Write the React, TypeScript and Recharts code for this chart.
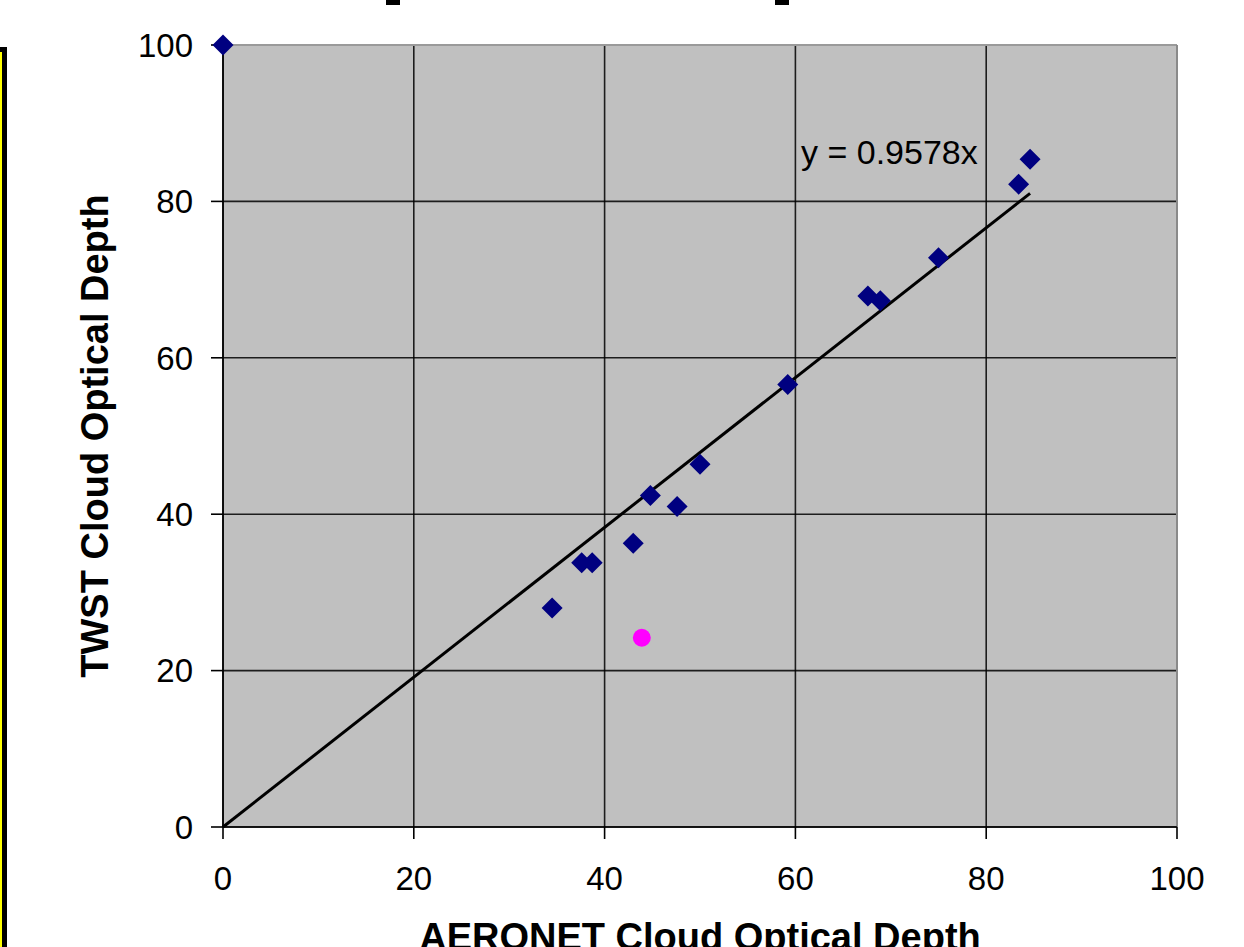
import React from "react"
import {
  ScatterChart,
  Scatter,
  XAxis,
  YAxis,
  CartesianGrid,
  ReferenceLine,
} from "recharts"

// AERONET vs TWST cloud optical depth
const aeronetX = [0, 34.5, 37.6, 38.7, 43.0, 44.8, 47.6, 50.0, 59.2, 67.6, 68.9, 75.0, 83.4, 84.6]
const twstY = [100, 28.0, 33.8, 33.8, 36.3, 42.4, 41.0, 46.4, 56.6, 67.9, 67.3, 72.8, 82.2, 85.4]

// the odd one out, drawn as a magenta dot
const outlierX = [43.9]
const outlierY = [24.2]

// fitted line through the origin
const slope = 0.9578
const fitRange = [0, 84.6]

const ticks = [0, 20, 40, 60, 80, 100]

const points = aeronetX.map((x, i) => ({ x, y: twstY[i] }))
const outlier = outlierX.map((x, i) => ({ x, y: outlierY[i] }))
const fitLine = fitRange.map((x) => ({ x, y: slope * x }))

const FONT = "'Liberation Sans', Arial, sans-serif"

const Diamond = (props: any) => {
  const { cx, cy } = props
  const r = 10.5
  return (
    <polygon
      points={`${cx},${cy - r} ${cx + r},${cy} ${cx},${cy + r} ${cx - r},${cy}`}
      fill="#000080"
    />
  )
}

const Dot = (props: any) => {
  const { cx, cy } = props
  return <circle cx={cx} cy={cy} r={9} fill="#FF00FF" />
}

const NoShape = () => <g />

const YTitle = (props: any) => {
  const { viewBox } = props
  const cx = viewBox.x + 108
  const cy = viewBox.y + viewBox.height / 2
  return (
    <text
      x={cx}
      y={cy}
      transform={`rotate(-90, ${cx}, ${cy})`}
      textAnchor="middle"
      fontFamily={FONT}
      fontWeight="bold"
      fontSize={38}
      fill="#000"
    >
      TWST Cloud Optical Depth
    </text>
  )
}

const XTitle = (props: any) => {
  const { viewBox } = props
  return (
    <text
      x={viewBox.x + viewBox.width / 2}
      y={viewBox.y + 123}
      textAnchor="middle"
      fontFamily={FONT}
      fontWeight="bold"
      fontSize={38}
      fill="#000"
    >
      AERONET Cloud Optical Depth
    </text>
  )
}

export default function App() {
  const tickStyle = { fontFamily: FONT, fontSize: 33, fill: "#000" }
  return (
    <div
      style={{
        position: "absolute",
        left: 0,
        top: 0,
        width: 1244,
        height: 947,
        overflow: "hidden",
        background: "#fff",
      }}
    >
      {/* yellow side panel, cropped at the left edge */}
      <div
        style={{
          position: "absolute",
          left: -200,
          top: 47,
          width: 207,
          height: 1000,
          boxSizing: "border-box",
          border: "5px solid #000",
          background: "#FFFF00",
        }}
      />
      {/* bits of a cropped title above the chart */}
      <div style={{ position: "absolute", left: 386, top: 0, width: 14, height: 5, background: "#000" }} />
      <div style={{ position: "absolute", left: 775, top: 0, width: 14, height: 5, background: "#000" }} />

      <ScatterChart
        width={1244}
        height={947}
        margin={{ top: 45, right: 67, bottom: 0, left: 0 }}
      >
        <CartesianGrid
          fill="#C0C0C0"
          stroke="#000"
          strokeWidth={1.6}
          strokeOpacity={0.85}
        />
        <XAxis
          type="number"
          dataKey="x"
          domain={[0, 100]}
          ticks={ticks}
          height={120}
          stroke="#000"
          strokeWidth={1.6}
          tickSize={12}
          tickMargin={28}
          tick={tickStyle}
          label={<XTitle />}
        />
        <YAxis
          type="number"
          dataKey="y"
          domain={[0, 100]}
          ticks={ticks}
          width={223}
          stroke="#000"
          strokeWidth={1.6}
          tickSize={12}
          tickMargin={18}
          tick={tickStyle}
          label={<YTitle />}
        />
        <ReferenceLine y={100} stroke="#9a9a9a" strokeWidth={2} />
        <ReferenceLine x={100} stroke="#8a8a8a" strokeWidth={2} />
        <Scatter
          data={fitLine}
          line={{ stroke: "#000", strokeWidth: 3 }}
          shape={NoShape}
          isAnimationActive={false}
        />
        <Scatter data={points} shape={Diamond} isAnimationActive={false} />
        <Scatter data={outlier} shape={Dot} isAnimationActive={false} />
        <text
          x={801}
          y={164}
          fontFamily={FONT}
          fontSize={34}
          fill="#000"
        >
          y = 0.9578x
        </text>
      </ScatterChart>
    </div>
  )
}
